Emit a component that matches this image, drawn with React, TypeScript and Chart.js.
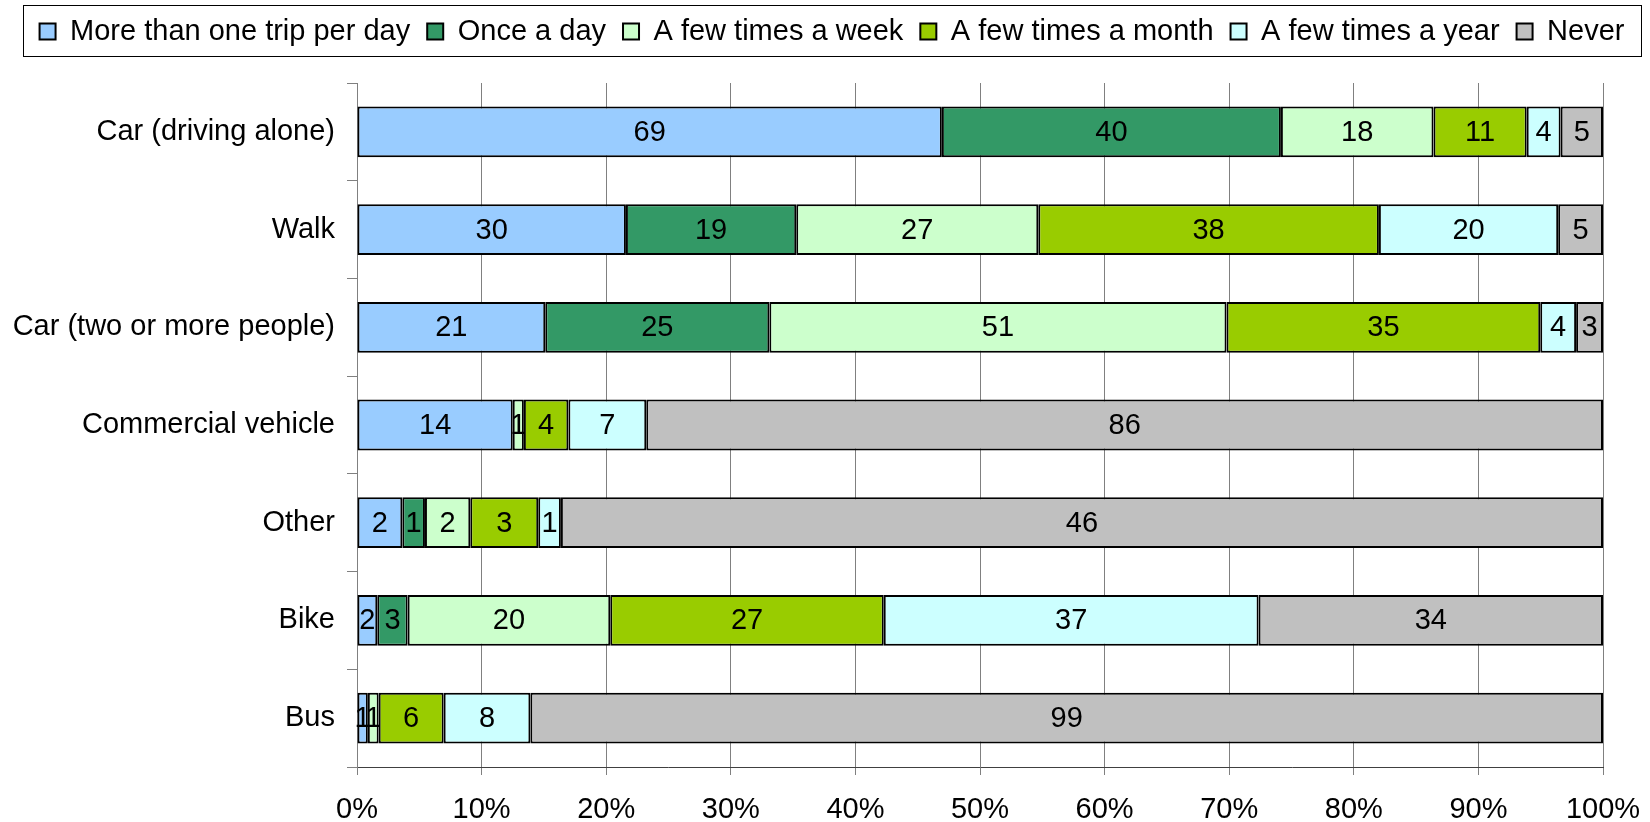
import React, { useEffect, useRef } from "react";
import { Chart, registerables } from "chart.js";

Chart.register(...registerables);

const categories = [
  "Car (driving alone)",
  "Walk",
  "Car (two or more people)",
  "Commercial vehicle",
  "Other",
  "Bike",
  "Bus",
];

const seriesNames = [
  "More than one trip per day",
  "Once a day",
  "A few times a week",
  "A few times a month",
  "A few times a year",
  "Never",
];

const moreThanOnePerDay = [69, 30, 21, 14, 2, 2, 1];
const onceADay = [40, 19, 25, 0, 1, 3, 0];
const fewTimesWeek = [18, 27, 51, 1, 2, 20, 1];
const fewTimesMonth = [11, 38, 35, 4, 3, 27, 6];
const fewTimesYear = [4, 20, 4, 7, 1, 37, 8];
const never = [5, 5, 3, 86, 46, 34, 99];

const seriesCounts = [moreThanOnePerDay, onceADay, fewTimesWeek, fewTimesMonth, fewTimesYear, never];
const seriesColors = ["#99CCFF", "#339966", "#CCFFCC", "#99CC00", "#CCFFFF", "#C0C0C0"];

const xTicks = [0, 10, 20, 30, 40, 50, 60, 70, 80, 90, 100];

const FONT = "'Liberation Sans', Arial, sans-serif";
const FS = 29;

export default function App() {
  const ref = useRef<HTMLCanvasElement | null>(null);

  useEffect(() => {
    document.body.style.margin = "0";
    const canvas = ref.current;
    if (!canvas) return;

    const totals = categories.map((_, i) => seriesCounts.reduce((s, arr) => s + arr[i], 0));

    const datasets = seriesNames.map((name, k) => ({
      label: name,
      data: seriesCounts[k].map((v, i) => (v / totals[i]) * 100),
      counts: seriesCounts[k],
      backgroundColor: seriesColors[k],
      borderColor: "#000000",
      borderWidth: 2,
      borderSkipped: false as const,
      categoryPercentage: 1,
      barPercentage: 0.52,
    }));

    const LEG_PAD = 17;
    const TOP_PAD = 0;
    const PLOT_TOP = 83;

    const legendFixPlugin = {
      id: "legendFix",
      afterInit(chart: any) {
        const lg = chart.legend;
        if (!lg) return;
        const orig = lg.fit;
        lg.fit = function (this: any) {
          this.maxWidth = 3000;
          orig.call(this);
          this.height = PLOT_TOP - TOP_PAD;
        };
      },
      afterLayout(chart: any) {
        const lg = chart.legend;
        if (!lg) return;
        lg.left = -19;
        lg.right = 1683;
        lg.width = lg.right - lg.left;
      },
    };

    const labelPlugin = {
      id: "segLabels",
      afterDatasetsDraw(chart: any) {
        const ctx = chart.ctx;
        ctx.save();
        ctx.font = `${FS}px ${FONT}`;
        ctx.fillStyle = "#000";
        ctx.textAlign = "center";
        ctx.textBaseline = "middle";
        chart.data.datasets.forEach((ds: any, di: number) => {
          const meta = chart.getDatasetMeta(di);
          meta.data.forEach((el: any, i: number) => {
            const c = ds.counts[i];
            if (!c) return;
            const cx = (el.x + el.base) / 2;
            ctx.fillText(String(c), cx, el.y + 1);
          });
        });
        ctx.restore();
      },
    };

    const legendBoxPlugin = {
      id: "legendBorder",
      afterDraw(chart: any) {
        const ctx = chart.ctx;
        ctx.save();
        ctx.strokeStyle = "#000";
        ctx.lineWidth = 1;
        ctx.strokeRect(23.5, 5.5, 1618, 51);
        ctx.restore();
      },
    };

    const chart = new Chart(canvas, {
      type: "bar",
      data: { labels: categories, datasets: datasets as any },
      plugins: [legendFixPlugin, labelPlugin, legendBoxPlugin],
      options: {
        indexAxis: "y",
        animation: false,
        responsive: false,
        maintainAspectRatio: false,
        layout: { padding: { left: 0, right: 0, top: TOP_PAD, bottom: 0 } },
        plugins: {
          tooltip: { enabled: false },
          legend: {
            position: "top",
            labels: {
              font: { family: FONT, size: FS },
              color: "#000",
              boxWidth: 16,
              boxHeight: 16,
              padding: LEG_PAD,
              generateLabels(chart: any) {
                return chart.data.datasets.map((ds: any, i: number) => ({
                  text: ds.label,
                  fillStyle: ds.backgroundColor,
                  strokeStyle: "#000",
                  lineWidth: 2,
                  hidden: false,
                  datasetIndex: i,
                  fontColor: "#000",
                }));
              },
            },
          },
        },
        scales: {
          x: {
            stacked: true,
            min: 0,
            max: 100,
            afterBuildTicks(scale: any) {
              scale.ticks = xTicks.map((v) => ({ value: v }));
            },
            afterFit(scale: any) {
              scale.height = 822 - 767;
              scale.paddingRight = 47;
            },
            ticks: {
              callback: (v: any) => `${v}%`,
              font: { family: FONT, size: FS },
              color: "#000",
              padding: 18,
              maxRotation: 0,
            },
            grid: {
              color: "#808080",
              lineWidth: 1,
              tickLength: 8,
              drawTicks: true,
            },
            border: { color: "#404040", width: 1 },
          },
          y: {
            stacked: true,
            offset: true,
            afterFit(scale: any) {
              scale.width = 357;
            },
            ticks: {
              font: { family: FONT, size: FS },
              color: "#000",
              padding: 12,
            },
            grid: {
              offset: true,
              drawOnChartArea: false,
              drawTicks: true,
              tickLength: 10,
              color: "#808080",
            },
            border: { color: "#808080", width: 1 },
          },
        },
      },
    });

    return () => chart.destroy();
  }, []);

  return (
    <div style={{ width: 1650, height: 822 }}>
      <canvas ref={ref} width={1650} height={822} style={{ display: "block" }} />
    </div>
  );
}
